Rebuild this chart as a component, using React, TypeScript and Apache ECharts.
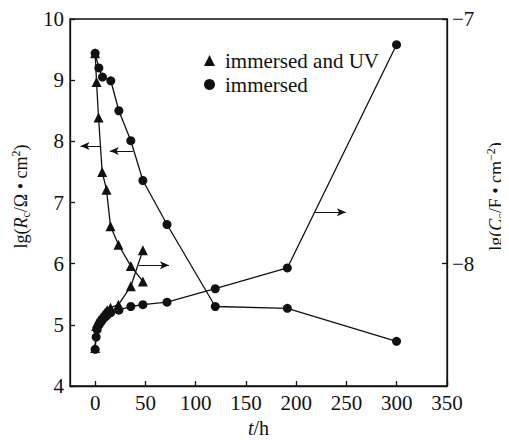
import React, { useEffect, useRef } from "react";
import * as echarts from "echarts";

// Rc (left axis, lg(Rc/Ω·cm²))
const tTriR = [0, 1.4, 3.4, 7, 11.3, 15.3, 23.2, 35.5, 47.5];
const rTri = [9.44, 8.97, 8.39, 7.5, 7.21, 6.61, 6.31, 5.96, 5.71];
const tCirR = [0, 3.7, 7.3, 15.6, 23.6, 35.5, 47.5, 71.5, 119.5, 191.2, 299.8];
const rCir = [9.44, 9.2, 9.05, 8.99, 8.5, 8.01, 7.36, 6.64, 5.3, 5.27, 4.73];

// Cc (right axis, lg(Cc/F·cm⁻²))
const tTriC = [0, 1, 2, 4, 6, 8, 10, 12, 15.3, 23.2, 35.5, 47.5];
const cTri = [-8.345, -8.255, -8.2425, -8.23, -8.22, -8.21, -8.2, -8.19, -8.18, -8.1675, -8.0925, -7.945];
const tCirC = [0, 1, 2, 4, 6, 8, 10, 12, 15.6, 23.6, 35.5, 47.5, 71.5, 119.5, 191.2, 299.8];
const cCir = [-8.35, -8.3, -8.27, -8.25, -8.2375, -8.225, -8.2175, -8.21, -8.2, -8.19, -8.175, -8.1675, -8.1575, -8.1025, -8.0175, -7.105];

const xTicks = [0, 50, 100, 150, 200, 250, 300, 350];
const rightTicks = [-8, -7];
const legendNames = ["immersed and UV", "immersed"];
const legendIcons = ["triangle", "circle"];

// arrows: [x1, y1, x2, y2] (tail -> head) in data coordinates
const arrowsLeft = [
  [5.4, 7.925, -14.5, 7.925],
  [37.8, 7.84, 14.6, 7.84],
];
const arrowsRight = [
  [43.5, -8.006, 73.4, -8.006],
  [218.8, -7.79, 249.4, -7.79],
];

const FONT = "Liberation Serif";
const INK = "#111";

const zip = (xs: number[], ys: number[]) => xs.map((x, i) => [x, ys[i]]);
const arrowData = (arr: number[][]) =>
  arr.map((a) => [{ coord: [a[0], a[1]] }, { coord: [a[2], a[3]] }]);

export default function App() {
  const ref = useRef<HTMLDivElement>(null);
  useEffect(() => {
    if (!ref.current) return;
    const chart = echarts.init(ref.current, undefined, { renderer: "svg" });
    const lineStyle = { color: INK, width: 1.3 };
    const markLineBase = {
      silent: true,
      symbol: ["none", "arrow"],
      symbolSize: [6, 9],
      label: { show: false },
      lineStyle: { color: INK, width: 1, type: "solid" },
      emphasis: { disabled: true },
    };
    const axisLine = { show: true, onZero: false, lineStyle: { color: INK, width: 1.3 } };
    const axisLabelBase = { color: INK, fontFamily: FONT, fontSize: 21 };
    const rich = {
      a: { fontFamily: FONT, fontSize: 18, color: INK, lineHeight: 22 },
      i: { fontFamily: FONT, fontSize: 18, color: INK, fontStyle: "italic", lineHeight: 22 },
      sub: { fontFamily: FONT, fontSize: 12, color: INK, verticalAlign: "bottom", lineHeight: 22 },
      sup: { fontFamily: FONT, fontSize: 12, color: INK, verticalAlign: "top", lineHeight: 22 },
      ax: { fontFamily: FONT, fontSize: 20, color: INK },
      ix: { fontFamily: FONT, fontSize: 20, color: INK, fontStyle: "italic" },
    };
    chart.setOption({
      animation: false,
      grid: {
        left: 70,
        right: 62,
        top: 19,
        bottom: 57,
        show: true,
        borderColor: INK,
        borderWidth: 1.3,
        outerBoundsMode: "none",
        containLabel: false,
      },
      legend: {
        left: 199,
        top: 45,
        orient: "vertical",
        data: legendNames.map((n, i) => ({ name: n, icon: legendIcons[i] })),
        itemWidth: 11,
        itemHeight: 11,
        itemGap: 3,
        textStyle: { fontFamily: FONT, fontSize: 21, color: INK, padding: [0, 0, 0, 5] },
        selectedMode: false,
      },
      xAxis: {
        type: "value",
        min: -25,
        max: 350,
        name: "{ix|t}{ax|/h}",
        nameLocation: "middle",
        nameGap: 32,
        nameTextStyle: { rich },
        axisLine,
        splitLine: { show: false },
        axisTick: { inside: true, length: 5, customValues: xTicks, lineStyle: { color: INK, width: 1.3 } },
        axisLabel: { ...axisLabelBase, margin: 6, customValues: xTicks },
      },
      yAxis: [
        {
          type: "value",
          min: 4,
          max: 10,
          interval: 1,
          name: "{a|lg(}{i|R}{sub|c}{a|/Ω • cm}{sup|2}{a|)}",
          nameLocation: "middle",
          nameGap: 28,
          nameTextStyle: { rich, padding: [0, 0, 0, 12] },
          axisLine,
          splitLine: { show: false },
          axisTick: { inside: true, length: 5, lineStyle: { color: INK, width: 1.3 } },
          axisLabel: { ...axisLabelBase, margin: 6 },
        },
        {
          type: "value",
          position: "right",
          min: -8.5,
          max: -7,
          name: "{a|lg(}{i|C}{sub|c}{a|/F • cm}{sup|−2}{a|)}",
          nameLocation: "middle",
          nameGap: 38,
          nameRotate: 90,
          nameTextStyle: { rich, padding: [0, 0, 0, 12] },
          axisLine,
          splitLine: { show: false },
          axisTick: { inside: true, length: 5, customValues: rightTicks, lineStyle: { color: INK, width: 1.3 } },
          axisLabel: {
            ...axisLabelBase,
            margin: 5,
            customValues: rightTicks,
            formatter: (v: number) => String(v).replace("-", "−"),
          },
        },
      ],
      series: [
        {
          name: legendNames[0],
          type: "line",
          yAxisIndex: 0,
          data: zip(tTriR, rTri),
          symbol: "triangle",
          symbolSize: 10,
          itemStyle: { color: INK },
          lineStyle,
          markLine: { ...markLineBase, data: arrowData([arrowsLeft[0]]) },
        },
        {
          name: legendNames[1],
          type: "line",
          yAxisIndex: 0,
          data: zip(tCirR, rCir),
          symbol: "circle",
          symbolSize: 9,
          itemStyle: { color: INK },
          lineStyle,
          markLine: { ...markLineBase, data: arrowData([arrowsLeft[1]]) },
        },
        {
          name: legendNames[0],
          type: "line",
          yAxisIndex: 1,
          data: zip(tTriC, cTri),
          symbol: "triangle",
          symbolSize: 10,
          itemStyle: { color: INK },
          lineStyle,
          markLine: { ...markLineBase, data: arrowData([arrowsRight[0]]) },
        },
        {
          name: legendNames[1],
          type: "line",
          yAxisIndex: 1,
          data: zip(tCirC, cCir),
          symbol: "circle",
          symbolSize: 9,
          itemStyle: { color: INK },
          lineStyle,
          markLine: { ...markLineBase, data: arrowData([arrowsRight[1]]) },
        },
      ],
    });
    return () => chart.dispose();
  }, []);
  return <div ref={ref} style={{ width: 509, height: 443, margin: -8 }} />;
}
